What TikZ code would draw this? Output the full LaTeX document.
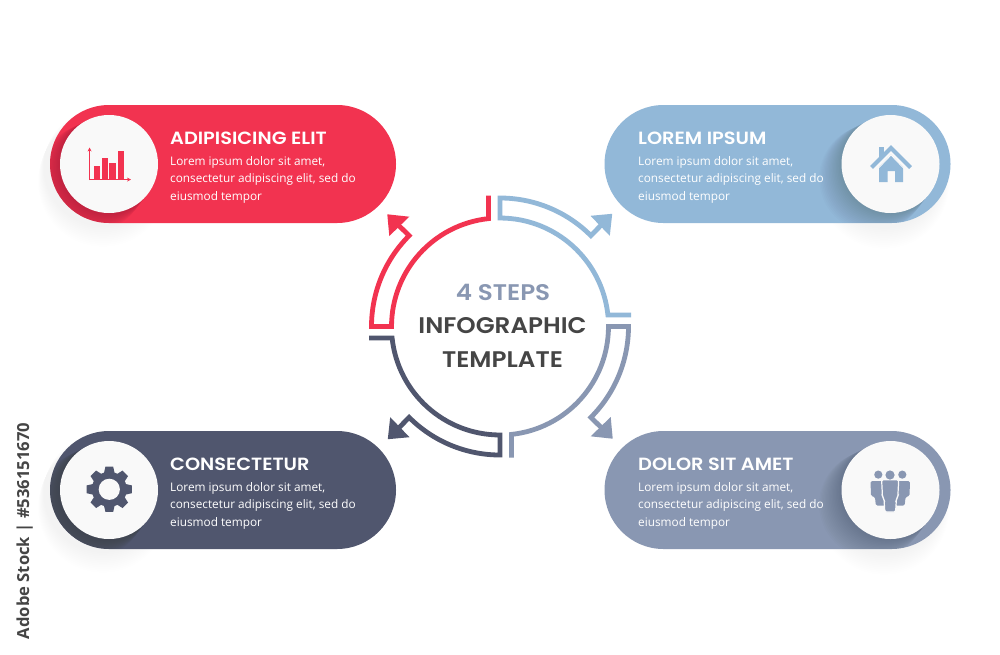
\documentclass[tikz,border=0pt]{standalone}
\usepackage{fontspec}
\setmainfont{Open Sans}
\newfontfamily\headf[FakeStretch=1.09]{Poppins SemiBold}
\usetikzlibrary{arrows.meta}
\definecolor{cred}{HTML}{F23350}
\definecolor{cblue}{HTML}{92B8D8}
\definecolor{cgrey}{HTML}{8997B2}
\definecolor{cdark}{HTML}{50566E}
\definecolor{cdisc}{HTML}{F9F9F9}
\definecolor{ctext}{HTML}{454545}
\tikzset{
  pill/.style={rounded corners=59pt,minimum width=346pt,minimum height=118pt,inner sep=0pt,outer sep=0pt},
  disc/.style={circle,fill=cdisc,minimum size=98pt,inner sep=0pt,outer sep=0pt},
  title/.style={anchor=base west,inner sep=0pt,text=white,font=\headf\fontsize{17.7}{17.7}\selectfont},
  body/.style={anchor=base west,inner sep=0pt,text=white,font=\fontsize{11.8}{11.8}\selectfont},
  centre/.style={anchor=base,inner sep=0pt,font=\headf\fontsize{22.6}{22.6}\selectfont},
  ringline/.style={line width=4.8pt,miter limit=10,line join=miter,line cap=butt},
}
% #1 rotation (clockwise), #2 colour
\newcommand{\ringpart}[2]{%
  \begin{scope}[shift={(500,326.5)},rotate=-#1,y=1pt]
    \draw[ringline,#2] (-11.5,131) -- (-11.5,107.9) arc[start angle=96.1,end angle=180,radius=108.5]
      -- (-128.5,0) arc[start angle=180,end angle=135,radius=128.5] -- (-101,100.8);
    \fill[#2] (-112.7,112.2) -- (-90.7,109.8) -- (-110.7,90.5) -- cycle;
  \end{scope}}
% shadow of the disc on the pill
\newcommand{\discshadow}[2]{%
  \foreach \i in {1,...,16}{
    \fill[black,opacity=0.011] (#1-1.1*\i,#2+0.9*\i) circle[radius=49+0.3*\i];
  }}
% soft shadow outside the pill end
\newcommand{\capshadow}[2]{%
  \foreach \i in {1,...,12}{
    \fill[black,opacity=0.005] (#1,#2+1.3*\i) circle[radius=59+0.5*\i];
  }}
\begin{document}
\begin{tikzpicture}[x=1pt,y=-1pt]
\useasboundingbox (0,0) rectangle (1000,654);
\fill[white] (0,0) rectangle (1000,654);

% outside soft shadows
\capshadow{103}{166}
\capshadow{103}{492}
\capshadow{884}{168}
\capshadow{884}{494}

% pills
\node[pill,fill=cred]  (pa) at (223,164) {};
\node[pill,fill=cblue] (pb) at (777.5,164) {};
\node[pill,fill=cdark] (pc) at (223,490) {};
\node[pill,fill=cgrey] (pd) at (777.5,490) {};

% disc shadows clipped to pills
\begin{scope}\clip[rounded corners=59pt] (50,105) rectangle (396,223);\discshadow{109}{164}\end{scope}
\begin{scope}\clip[rounded corners=59pt] (604.5,105) rectangle (950.5,223);\discshadow{890.5}{164}\end{scope}
\begin{scope}\clip[rounded corners=59pt] (50,431) rectangle (396,549);\discshadow{109}{490}\end{scope}
\begin{scope}\clip[rounded corners=59pt] (604.5,431) rectangle (950.5,549);\discshadow{890.5}{490}\end{scope}

% discs
\node[disc] (da) at (109,164) {};
\node[disc] (db) at (890.5,164) {};
\node[disc] (dc) at (109,490) {};
\node[disc] (dd) at (890.5,490) {};

% chart icon
\draw[cred,line width=1.2pt,-{Stealth[length=4pt,width=4pt]}] (89.6,180.2) -- (89.6,147.5);
\draw[cred,line width=1.2pt,-{Stealth[length=4pt,width=4pt]}] (89,179.6) -- (131,179.6);
\fill[cred] (94,165.7) rectangle (100.4,179);
\fill[cred] (101.5,158.3) rectangle (108,179);
\fill[cred] (109.1,163) rectangle (115.7,179);
\fill[cred] (117.5,151) rectangle (124,179);

% house icon
\fill[cblue] (879.3,146.7) rectangle (884.3,157);
\fill[cblue] (879,167) -- (891,154.5) -- (903,167) -- (903,182) -- (895.2,182) -- (895.2,171) -- (887.7,171) -- (887.7,182) -- (879,182) -- cycle;
\draw[cblue,line width=4pt] (871.5,167.5) -- (891,148) -- (910.5,167.5);
\draw[cdisc,line width=0.9pt] (875,171.7) -- (891,155) -- (907,171.7);

% gear icon
\fill[cdark] (109.3,489.3) circle[radius=17.5];
\foreach \a in {0,45,...,315}{
  \begin{scope}[shift={(109.3,489.3)},rotate=\a]
    \fill[cdark] (-5.6,-15) -- (-3.9,-22.6) -- (3.9,-22.6) -- (5.6,-15) -- cycle;
  \end{scope}}
\fill[cdisc] (109.3,489.3) circle[radius=10.6];

% people icon
\fill[cgrey] (878.3,474.6) circle[radius=4.1];
\fill[cgrey] (902.3,474.6) circle[radius=4.1];
\fill[cgrey,rounded corners=1.5pt] (870.5,481) -- (885,481) -- (885,505.5) -- (875.8,505.5) -- (875,497) -- (871,496) -- cycle;
\fill[cgrey,rounded corners=1.5pt] (910,481) -- (895.5,481) -- (895.5,505.5) -- (904.7,505.5) -- (905.5,497) -- (909.5,496) -- cycle;
\draw[cdisc,line width=1.2pt,fill=cgrey,rounded corners=1.5pt] (881.6,479.7) -- (898.7,479.7) -- (897.8,497) -- (896.4,499) -- (895.6,512) -- (884.8,512) -- (884,499) -- (882.5,497) -- cycle;
\fill[cgrey] (890,475) circle[radius=4.6];

% ring
\ringpart{0}{cred}
\ringpart{90}{cblue}
\ringpart{180}{cgrey}
\ringpart{270}{cdark}

% centre text
\node[centre,text=cgrey] (t1) at (503,300.5) {4 STEPS};
\node[centre,text=ctext] (t2) at (502.5,333.5) {INFOGRAPHIC};
\node[centre,text=ctext] (t3) at (502.5,367) {TEMPLATE};

% panel texts
\node[title] (ta) at (170,144) {ADIPISICING ELIT};
\node[title] (tb) at (638,144) {LOREM IPSUM};
\node[title] (tc) at (170,470) {CONSECTETUR};
\node[title] (td) at (638,470) {DOLOR SIT AMET};
\foreach \n/\x/\y in {a/170/165,b/638/165,c/170/491,d/638/491}{
  \node[body] (l1\n) at (\x,\y) {Lorem ipsum dolor sit amet,};
  \node[body] (l2\n) at (\x,\y+17.5) {consectetur adipiscing elit, sed do};
  \node[body] (l3\n) at (\x,\y+35) {eiusmod tempor};
}

% side label
\node[rotate=90,anchor=base,inner sep=0pt,text=ctext,font=\bfseries\fontsize{16.6}{16.6}\selectfont] (side) at (29,531) {Adobe Stock | \#536151670};
\end{tikzpicture}
\end{document}
